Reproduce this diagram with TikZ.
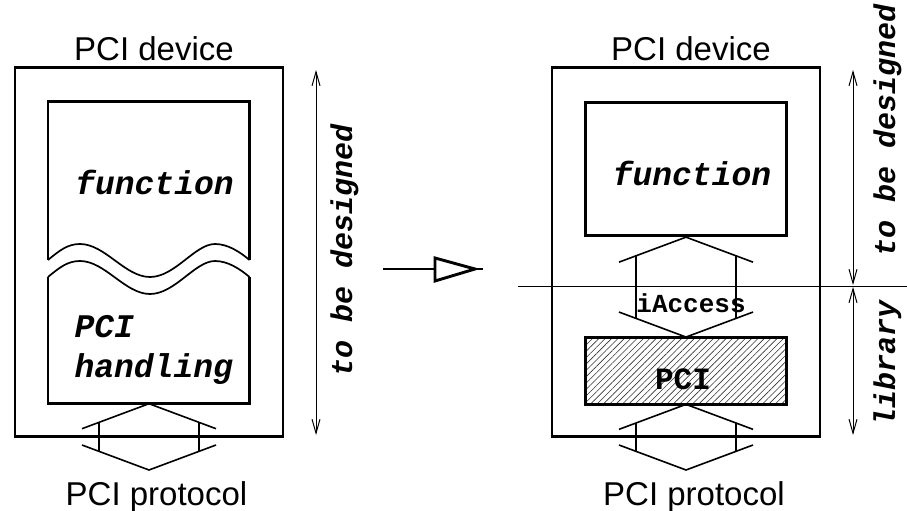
\documentclass[tikz,border=0pt]{standalone}
\usepackage{fontspec}
\setmainfont{Liberation Sans}
\setmonofont{Liberation Mono}
\usetikzlibrary{arrows.meta,calc,positioning,patterns.meta}

% double arrow between two apexes
\newcommand{\ifarrow}[2]{%
	\draw[iface] ($(#1)+(-67,25)$) -- (#1) -- ($(#1)+(67,25)$);
	\draw[iface] ($(#2)+(-67,-25)$) -- (#2) -- ($(#2)+(67,-25)$);
	\draw[shaft] ($(#1)+(-50,18.7)$) -- ($(#2)+(-50,-18.7)$);
	\draw[shaft] ($(#1)+(50,18.7)$) -- ($(#2)+(50,-18.7)$);
}

\begin{document}
\begin{tikzpicture}[
		x=1pt, y=-1pt,
		dev/.style={draw, line width=2.9pt, minimum width=268pt, minimum height=368.5pt, inner sep=0pt},
		part/.style={draw, line width=2.9pt, minimum width=201.7pt, inner sep=0pt},
		edge/.style={line width=2.9pt},
		wave/.style={line width=1.7pt},
		iface/.style={line width=1.6pt},
		shaft/.style={line width=1.3pt},
		dim/.style={line width=1pt, {Straight Barb[length=14pt,width=8pt]}-{Straight Barb[length=14pt,width=8pt]}},
		helv/.style={font=\fontsize{33}{40}\selectfont},
		cour/.style={font=\ttfamily\bfseries\itshape\fontsize{33}{40}\selectfont},
		courup/.style={font=\ttfamily\bfseries\fontsize{#1}{#1}\selectfont}
	]
	\useasboundingbox (0,0) rectangle (907,511);

	% before
	\node[dev] (dev1) at (149,252.2) {};
	\draw[edge] (48,260) -- (48,101.3) -- (249.5,101.3) -- (249.5,260);
	\draw[edge] (48,277) -- (48,403.7) -- (249.5,403.7) -- (249.5,277);
	\draw[wave] (48,260) .. controls (60,250) and (68,244) .. (80,244)
		.. controls (105,244) and (125,277) .. (150,277)
		.. controls (175,277) and (195,244) .. (215,244)
		.. controls (228,244) and (240,252) .. (249.5,260);
	\draw[wave] (48,277) .. controls (60,267) and (68,261) .. (80,261)
		.. controls (105,261) and (125,294) .. (150,294)
		.. controls (175,294) and (195,261) .. (215,261)
		.. controls (228,261) and (240,269) .. (249.5,277);
	\coordinate (hand) at (149,403.7);
	\coordinate (bus1) at (149,470);

	\node[helv, anchor=base] (dev1lbl) at (154,60) {PCI device};
	\node[cour, anchor=base] (fn1) at (154.5,194) {function};
	\node[cour, anchor=base west] (hd1) at (71,337) {PCI};
	\node[cour, anchor=base west] (hd2) at (71,377) {handling};
	\node[helv, anchor=base] (prot1) at (156.5,505) {PCI protocol};
	\ifarrow{hand}{bus1}

	\draw[dim] (316,70) -- (316,435);
	\node[font=\ttfamily\bfseries\itshape\fontsize{30}{30}\selectfont, rotate=90, anchor=base] (tbd1) at (352,250) {to be designed};

	% transition
	\draw[edge] (383,269) -- (483,269);
	\draw[edge, fill=white, line join=miter] (435,258) -- (475,269) -- (435,281) -- cycle;

	% after
	\node[dev] (dev2) at (686,252.2) {};
	\node[part, minimum height=133pt] (func2) at (686,169.2) {};
	\node[part, minimum height=66.7pt, pattern={Lines[angle=45,distance=4.5pt,line width=0.6pt]}, pattern color=black!80] (pci) at (686,370.7) {};
	\coordinate (bus2) at (686,470);

	\node[helv, anchor=base] (dev2lbl) at (691,60) {PCI device};
	\node[cour, anchor=base] (fn2) at (692,185) {function};
	\ifarrow{func2.south}{pci.north}
	\ifarrow{pci.south}{bus2}
	\node[courup=26, anchor=base] (acc) at (691,312) {iAccess};
	\node[courup=31, anchor=base] (pcilbl) at (683,389) {PCI};
	\node[helv, anchor=base] (prot2) at (694,505) {PCI protocol};

	\draw[line width=1pt] (518,286) -- (907,286);
	\draw[dim] (853,70) -- (853,285);
	\draw[dim] (853,287) -- (853,435);
	\node[font=\ttfamily\bfseries\itshape\fontsize{30}{30}\selectfont, rotate=90, anchor=base] (tbd2) at (895,130) {to be designed};
	\node[font=\ttfamily\bfseries\itshape\fontsize{30}{30}\selectfont, rotate=90, anchor=base] (lib) at (895,363) {library};
\end{tikzpicture}
\end{document}
